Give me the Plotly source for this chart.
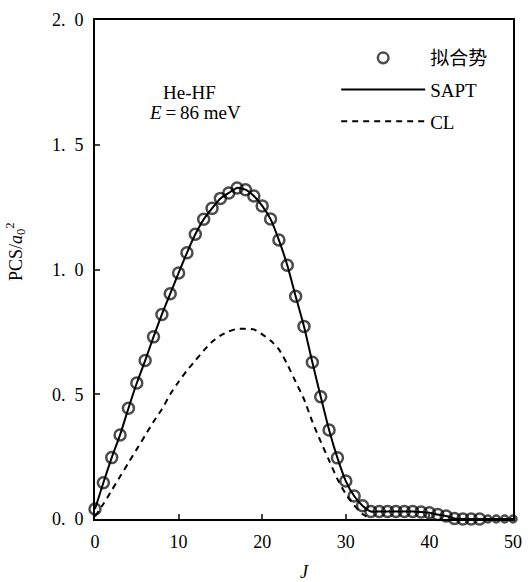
import plotly.graph_objects as go

# ---- data ----
J = list(range(0, 51))
fit_pcs = [0.04, 0.145, 0.246, 0.337, 0.444, 0.545, 0.635, 0.730, 0.820, 0.903,
           0.986, 1.067, 1.141, 1.201, 1.245, 1.285, 1.307, 1.327, 1.320, 1.295,
           1.255, 1.202, 1.118, 1.017, 0.893, 0.772, 0.628, 0.490, 0.357, 0.245,
           0.152, 0.092, 0.053, 0.030, 0.030, 0.030, 0.030, 0.030, 0.030, 0.028,
           0.025, 0.018, 0.012, 0.002, 0.0, 0.0, 0.0, 0.0, 0.0, 0.0, 0.0]
sapt_pcs = [0.04, 0.145, 0.246, 0.337, 0.444, 0.545, 0.635, 0.730, 0.820, 0.903,
            0.986, 1.067, 1.141, 1.201, 1.245, 1.285, 1.307, 1.327, 1.320, 1.295,
            1.255, 1.202, 1.118, 1.017, 0.893, 0.772, 0.628, 0.490, 0.357, 0.245,
            0.152, 0.092, 0.053, 0.030, 0.030, 0.030, 0.030, 0.030, 0.030, 0.028,
            0.025, 0.018, 0.012, 0.002, 0.0, 0.0, 0.0, 0.0, 0.0, 0.0, 0.0]
J_cl = list(range(0, 34))
cl_pcs = [0.01, 0.06, 0.115, 0.17, 0.225, 0.28, 0.335, 0.39, 0.44, 0.50,
          0.55, 0.595, 0.635, 0.675, 0.71, 0.735, 0.752, 0.762, 0.762, 0.760,
          0.74, 0.715, 0.68, 0.62, 0.55, 0.48, 0.39, 0.31, 0.235, 0.16,
          0.10, 0.055, 0.02, 0.0]
x_ticks = [0, 10, 20, 30, 40, 50]
y_ticks = [0.0, 0.5, 1.0, 1.5, 2.0]
y_ticklabels = ["0.\u20020", "0.\u20025", "1.\u20020", "1.\u20025", "2.\u20020"]

SERIF = "Liberation Serif"
LEG_FONT = "Liberation Serif, Noto Sans CJK SC"

fig = go.Figure()

fig.add_trace(go.Scatter(
    x=J, y=fit_pcs, mode="markers", name="拟合势", legendgroup="a",
    marker=dict(symbol="circle-open", size=[11 if j < 47 else 7 for j in J],
                color="black", line=dict(width=2.5, color="black")),
    cliponaxis=False,
))
fig.add_trace(go.Scatter(
    x=J, y=sapt_pcs, mode="lines", name="SAPT", legendgroup="b",
    line=dict(color="black", width=2, shape="spline", smoothing=0.6),
    cliponaxis=False,
))
fig.add_trace(go.Scatter(
    x=J_cl, y=cl_pcs, mode="lines", name="CL", legendgroup="c",
    line=dict(color="black", width=2, dash="6px,5px", shape="spline", smoothing=0.6),
))

fig.update_layout(
    width=532, height=582,
    margin=dict(l=95, r=10, t=15, b=63),
    paper_bgcolor="white", plot_bgcolor="white",
    font=dict(family=SERIF, size=18, color="black"),
    showlegend=True,
    legend=dict(
        x=0.577, y=0.962, xanchor="left", yanchor="top",
        bgcolor="rgba(0,0,0,0)", borderwidth=0,
        itemwidth=84, tracegroupgap=4, traceorder="grouped",
        font=dict(family=LEG_FONT, size=19),
    ),
    xaxis=dict(
        range=[0, 50], tickvals=x_ticks, ticks="inside", ticklen=5, tickwidth=1.5,
        showline=True, linewidth=2, linecolor="black", mirror=True,
        showgrid=False, zeroline=False, ticklabelstandoff=5,
        tickfont=dict(family=SERIF, size=18),
    ),
    yaxis=dict(
        range=[0, 2.0], tickvals=y_ticks, ticktext=y_ticklabels,
        ticks="inside", ticklen=5, tickwidth=1.5,
        showline=True, linewidth=2, linecolor="black", mirror=True,
        showgrid=False, zeroline=False, ticklabelstandoff=6,
        tickfont=dict(family=SERIF, size=18),
    ),
)

fig.add_annotation(xref="paper", yref="paper", x=0.227, y=0.879, xanchor="center",
                   text="He-HF", showarrow=False, font=dict(size=19, family=SERIF))
fig.add_annotation(xref="paper", yref="paper", x=0.239, y=0.839, xanchor="center",
                   text="<i>E</i>\u2009=\u200986\u00a0meV", showarrow=False,
                   font=dict(size=19, family=SERIF))
fig.add_annotation(xref="paper", yref="paper", x=0.5, y=-0.107, xanchor="center",
                   yanchor="middle",
                   text="<i>J</i>", showarrow=False, font=dict(size=18, family=SERIF))
fig.add_annotation(xref="paper", yref="paper", x=-0.19, y=0.536, xanchor="center",
                   yanchor="middle", textangle=-90,
                   text="PCS/<i>a</i><sub>0</sub><sup>2</sup>",
                   showarrow=False, font=dict(size=18, family=SERIF))

fig.write_html("out.html")
